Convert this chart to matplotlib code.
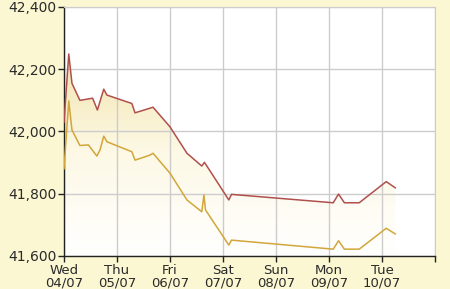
import matplotlib; matplotlib.use("Agg")
import matplotlib.pyplot as plt
import numpy as np
from matplotlib.colors import LinearSegmentedColormap

plt.rcParams.update({"font.family": "DejaVu Sans", "font.size": 10})

# days since Wed 04/07 00:00
sell_x = [0.0, 0.09, 0.15, 0.30, 0.54, 0.63, 0.75, 0.81, 1.28, 1.34, 1.68, 2.00,
          2.32, 2.60, 2.65, 3.11, 3.16, 5.08, 5.18, 5.29, 5.57, 6.08, 6.25]
sell_y = [42030, 42249, 42155, 42100, 42107, 42069, 42136, 42117, 42090, 42060, 42078, 42015,
          41930, 41889, 41901, 41780, 41798, 41771, 41799, 41771, 41771, 41839, 41819]
buy_x = [0.0, 0.09, 0.15, 0.30, 0.46, 0.62, 0.68, 0.75, 0.81, 1.28, 1.34, 1.62, 1.68, 2.00,
         2.32, 2.60, 2.64, 2.67, 3.11, 3.16, 5.08, 5.18, 5.29, 5.57, 6.08, 6.25]
buy_y = [41880, 42098, 42005, 41955, 41957, 41921, 41941, 41985, 41967, 41935, 41908, 41924, 41930, 41866,
         41780, 41742, 41796, 41748, 41635, 41651, 41622, 41649, 41622, 41622, 41689, 41671]
day_labels = ["Wed\n04/07", "Thu\n05/07", "Fri\n06/07", "Sat\n07/07",
              "Sun\n08/07", "Mon\n09/07", "Tue\n10/07", ""]
yticks = [41600, 41800, 42000, 42200, 42400]

RED = "#b0504c"; GOLD = "#d2a63a"; BG = "#fbf7d2"; GRID = "#cccccc"

fig = plt.figure(figsize=(4.5, 2.89), dpi=100, facecolor=BG)
ax = fig.add_axes([64/450, 1-256/289, 371/450, 249/289])
ax.set_facecolor("white")

# gradient fill under the upper line
cmap = LinearSegmentedColormap.from_list("g", ["#ffffff", "#fdf9e6", "#f1e3aa"])
grad = np.linspace(0, 1, 256).reshape(-1, 1)
im = ax.imshow(grad, extent=[0, 7, 41600, 42260], origin="lower", aspect="auto",
               cmap=cmap, zorder=1)
poly = ax.fill_between(sell_x, sell_y, 41600, color="none", lw=0)
path = poly.get_paths()[0]
im.set_clip_path(path, transform=ax.transData)

ax.plot(sell_x, sell_y, color=RED, lw=1.1, zorder=3)
ax.plot(buy_x, buy_y, color=GOLD, lw=1.1, zorder=3)

ax.set_xlim(0, 7); ax.set_ylim(41600, 42400)
ax.set_xticks(range(8)); ax.set_xticklabels(day_labels, fontsize=9.5, linespacing=0.95)
ax.set_yticks(yticks); ax.set_yticklabels([f"{v:,}" for v in yticks], fontsize=10)
ax.grid(True, color=GRID, lw=1, zorder=2)
ax.tick_params(direction="out", length=4, width=1, color="#222222", labelcolor="#2a2a2a", pad=1.5)
for s in ["top", "right"]:
    ax.spines[s].set_color(GRID)
for s in ["left", "bottom"]:
    ax.spines[s].set_color("#222222"); ax.spines[s].set_linewidth(1)

fig.savefig("out.png", dpi=100, facecolor=BG)
